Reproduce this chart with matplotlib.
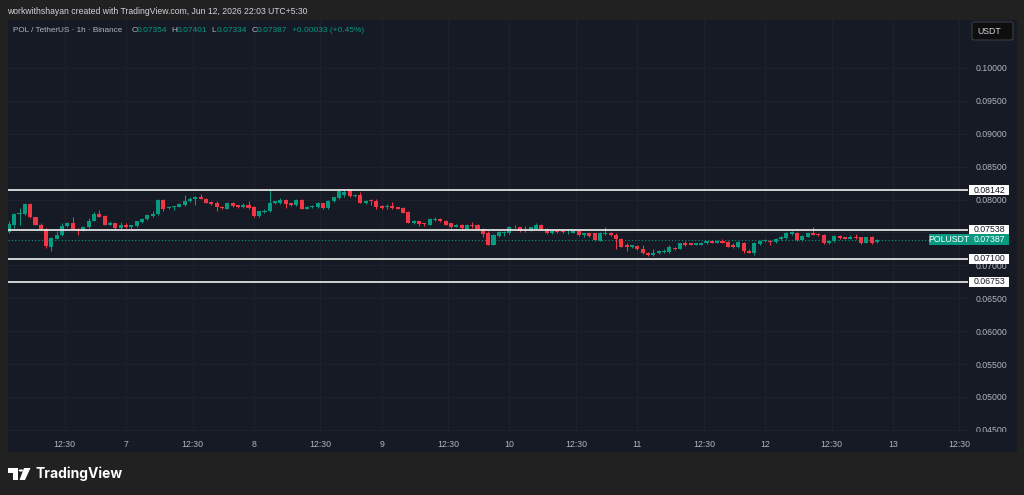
import numpy as np
import pandas as pd
import matplotlib
matplotlib.use("Agg")
from matplotlib import pyplot as plt
from matplotlib.patches import Rectangle, FancyBboxPatch, Polygon, Circle
from matplotlib.transforms import blended_transform_factory, Bbox, TransformedBbox

plt.rcParams['font.family'] = ['Liberation Sans', 'DejaVu Sans']

# POL / TetherUS, 1h candles, Binance (UTC+5:30), first bar 06 Jun 02:00
start = pd.Timestamp("2026-06-06 02:00")

opens = [
    .07508, .07619, .07776, .07781, .07933, .07730, .07619, .07558, .07285, .07406,
    .07457, .07599, .07639, .07558, .07528, .07578, .07680, .07781, .07751, .07619,
    .07639, .07568, .07609, .07589, .07599, .07660, .07700, .07751, .07781, .07994,
    .07872, .07882, .07893, .07913, .07974, .08004, .08045, .08014, .07963, .07943,
    .07893, .07862, .07953, .07913, .07882, .07913, .07893, .07751, .07812, .07822,
    .07943, .07953, .07994, .07943, .07913, .07994, .07862, .07882, .07882, .07943,
    .07872, .07974, .08024, .08065, .08146, .08055, .08075, .07943, .07994, .07974,
    .07903, .07882, .07903, .07882, .07872, .07812, .07639, .07670, .07639, .07619,
    .07690, .07710, .07680, .07639, .07589, .07619, .07558, .07619, .07619, .07558,
    .07497, .07315, .07447, .07487, .07487, .07589, .07578, .07538, .07528, .07558,
    .07619, .07558, .07487, .07528, .07528, .07518, .07497, .07528, .07467, .07487,
    .07487, .07376, .07477, .07497, .07467, .07406, .07305, .07275, .07295, .07254,
    .07193, .07153, .07183, .07204, .07204, .07264, .07254, .07335, .07335, .07315,
    .07315, .07335, .07366, .07345, .07376, .07356, .07315, .07275, .07345, .07224,
    .07193, .07325, .07366, .07376, .07356, .07396, .07416, .07477, .07497, .07386,
    .07437, .07497, .07477, .07467, .07335, .07366, .07447, .07426, .07406, .07437,
    .07426, .07345, .07426, .07354,
]
highs = [
    .07670, .07791, .07872, .07943, .07943, .07741, .07639, .07568, .07426, .07528,
    .07639, .07660, .07730, .07568, .07599, .07720, .07812, .07842, .07761, .07680,
    .07649, .07660, .07649, .07619, .07680, .07720, .07781, .07822, .08004, .08004,
    .07903, .07903, .07943, .08075, .08045, .08055, .08085, .08024, .07984, .07984,
    .07903, .07963, .07963, .07923, .07953, .07974, .07903, .07832, .07852, .08146,
    .07984, .08024, .08004, .07953, .08004, .08004, .07903, .07923, .07963, .07953,
    .07994, .08045, .08146, .08146, .08156, .08085, .08115, .07994, .08004, .08004,
    .07913, .07933, .07963, .07893, .07882, .07822, .07690, .07680, .07649, .07720,
    .07741, .07720, .07690, .07649, .07629, .07629, .07629, .07660, .07629, .07568,
    .07528, .07477, .07518, .07518, .07599, .07609, .07589, .07599, .07589, .07639,
    .07629, .07568, .07538, .07558, .07538, .07548, .07538, .07538, .07497, .07497,
    .07497, .07508, .07578, .07508, .07497, .07416, .07335, .07315, .07305, .07305,
    .07204, .07244, .07234, .07254, .07315, .07275, .07345, .07366, .07345, .07345,
    .07356, .07376, .07376, .07386, .07396, .07366, .07345, .07366, .07356, .07254,
    .07356, .07386, .07406, .07386, .07416, .07447, .07508, .07518, .07508, .07457,
    .07497, .07578, .07487, .07477, .07386, .07457, .07467, .07437, .07457, .07477,
    .07437, .07437, .07447, .07401,
]
lows = [
    .07497, .07568, .07619, .07761, .07720, .07609, .07548, .07264, .07224, .07396,
    .07447, .07589, .07538, .07457, .07518, .07568, .07670, .07730, .07609, .07609,
    .07558, .07558, .07568, .07558, .07589, .07649, .07690, .07741, .07771, .07832,
    .07852, .07842, .07882, .07903, .07963, .07923, .08004, .07943, .07913, .07822,
    .07852, .07852, .07882, .07872, .07872, .07862, .07730, .07741, .07791, .07812,
    .07933, .07933, .07872, .07903, .07903, .07852, .07852, .07872, .07872, .07862,
    .07862, .07963, .08014, .08034, .08045, .08045, .07943, .07933, .07913, .07852,
    .07862, .07852, .07862, .07852, .07791, .07639, .07629, .07599, .07599, .07609,
    .07680, .07660, .07609, .07568, .07578, .07558, .07548, .07568, .07538, .07437,
    .07305, .07305, .07437, .07447, .07477, .07568, .07508, .07508, .07518, .07548,
    .07548, .07477, .07477, .07487, .07497, .07477, .07487, .07447, .07437, .07437,
    .07376, .07366, .07467, .07447, .07254, .07275, .07224, .07264, .07234, .07173,
    .07143, .07143, .07173, .07183, .07193, .07234, .07244, .07295, .07305, .07305,
    .07305, .07325, .07335, .07335, .07335, .07275, .07264, .07264, .07193, .07183,
    .07163, .07315, .07356, .07315, .07345, .07386, .07406, .07467, .07376, .07376,
    .07426, .07457, .07447, .07325, .07325, .07356, .07406, .07396, .07396, .07406,
    .07325, .07335, .07325, .07334,
]
closes = [
    .07629, .07781, .07796, .07933, .07730, .07619, .07558, .07295, .07416, .07467,
    .07599, .07639, .07548, .07528, .07589, .07680, .07781, .07741, .07619, .07639,
    .07568, .07619, .07589, .07609, .07670, .07710, .07771, .07781, .07994, .07862,
    .07882, .07903, .07933, .07984, .08014, .08045, .08014, .07953, .07933, .07882,
    .07872, .07953, .07903, .07882, .07913, .07872, .07751, .07822, .07832, .07943,
    .07974, .07994, .07933, .07913, .07994, .07862, .07893, .07903, .07943, .07872,
    .07984, .08034, .08126, .08115, .08055, .08075, .07953, .07984, .07984, .07893,
    .07872, .07903, .07872, .07862, .07801, .07649, .07670, .07629, .07629, .07700,
    .07710, .07670, .07619, .07578, .07619, .07568, .07619, .07599, .07548, .07477,
    .07315, .07467, .07508, .07508, .07589, .07578, .07528, .07518, .07578, .07619,
    .07558, .07487, .07528, .07508, .07508, .07528, .07528, .07457, .07487, .07447,
    .07386, .07487, .07497, .07457, .07396, .07285, .07285, .07305, .07244, .07183,
    .07153, .07193, .07224, .07224, .07275, .07244, .07335, .07315, .07315, .07335,
    .07345, .07366, .07345, .07376, .07345, .07285, .07275, .07356, .07214, .07193,
    .07345, .07376, .07386, .07356, .07406, .07437, .07497, .07508, .07386, .07447,
    .07487, .07467, .07467, .07335, .07376, .07447, .07416, .07406, .07437, .07416,
    .07335, .07426, .07335, .07387,
]

levels = [0.08142, 0.07538, 0.07100, 0.06753]
last_price = 0.07387
price_ticks = [0.045, 0.050, 0.055, 0.060, 0.065, 0.070, 0.075, 0.080, 0.085, 0.090, 0.095, 0.100]
day_labels = ["7", "8", "9", "10", "11", "12", "13"]

GREEN = "#089981"
RED = "#f23645"
BG = "#161a25"
GRID = "#1d212d"
TXT = "#b2b5be"

W, H = 1024, 495


def fp(x, y):
    # pixel position (from top-left) -> figure fraction
    return x / W, 1 - y / H


fig = plt.figure(figsize=(10.24, 4.95), dpi=100, facecolor="#212121")

# chart panel
fig.add_artist(Rectangle(fp(8, 452), 1009 / W, 432 / H, transform=fig.transFigure,
                         facecolor=BG, edgecolor="none", zorder=0))

ax = fig.add_axes([8 / W, 61 / H, 960 / W, 414 / H], facecolor=BG)
for s in ax.spines.values():
    s.set_visible(False)

hours = (pd.date_range(start, periods=len(opens), freq="h") - pd.Timestamp("2026-06-06")) / pd.Timedelta(hours=1)
x = np.asarray(hours, dtype=float)
o = np.array(opens)
h = np.array(highs)
l = np.array(lows)
c = np.array(closes)
cols = np.where(c >= o, GREEN, RED)

ax.vlines(x, l, h, colors=cols, lw=0.75, zorder=3)
body = np.maximum(np.abs(c - o), 0.00012)
ax.bar(x, body, bottom=np.minimum(o, c), width=0.76, color=cols, linewidth=0, zorder=4)

# ticks
day_pos = [24 * (i + 1) for i in range(len(day_labels))]
half_pos = [24 * i + 12.5 for i in range(len(day_labels) + 1)]
xt = sorted(day_pos + half_pos)
xl = [day_labels[day_pos.index(p)] if p in day_pos else "12:30" for p in xt]
ax.set_xticks(xt)
ax.set_xticklabels(xl)
ax.set_yticks(price_ticks)
# 0.07500 sits fully under the level / last-price tags
ax.set_yticklabels(["" if abs(p - 0.075) < 1e-9 else f"{p:.5f}" for p in price_ticks])
ax.yaxis.tick_right()
ax.tick_params(axis="x", length=0, pad=4, labelsize=6.3, labelcolor=TXT)
ax.tick_params(axis="y", length=0, pad=5.5, labelsize=6.3, labelcolor=TXT)
ax.grid(True, color=GRID, lw=0.8, zorder=0)
ax.set_axisbelow(True)
ax.set_xlim(1.84, 182.1)
ax.set_ylim(0.044375, 0.107295)

# price scale ends just above the time scale
clipbox = TransformedBbox(Bbox([[0, 1 - 432 / H], [1, 1 - 20 / H]]), fig.transFigure)
for t in ax.yaxis.get_major_ticks():
    t.label2.set_clip_box(clipbox)
    t.label2.set_clip_on(True)

# last price dotted line
ax.axhline(last_price, color=GREEN, lw=0.8, ls=(0, (1, 2)), zorder=2)

# support / resistance lines with tags on the price scale
trans = blended_transform_factory(ax.transAxes, ax.transData)
tag_h = 0.00152   # ~10 px tall
for lv in levels:
    ax.axhline(lv, color="#e0e0e0", lw=1.3, zorder=5)
    ax.add_patch(Rectangle((1.0015, lv - tag_h / 2), 0.0415, tag_h, transform=trans,
                           facecolor="white", edgecolor="none", clip_on=False, zorder=6))
    ax.text(1.0225, lv, f"{lv:.5f}", transform=trans, ha="center", va="center",
            fontsize=6.3, color="#131722", clip_on=False, zorder=7)

ax.add_patch(Rectangle((0.9594, last_price - tag_h * 0.55), 0.0406, tag_h * 1.1, transform=trans,
                       facecolor=GREEN, edgecolor="none", clip_on=False, zorder=6))
ax.add_patch(Rectangle((1.0005, last_price - tag_h * 0.55), 0.0425, tag_h * 1.1, transform=trans,
                       facecolor=GREEN, edgecolor="none", clip_on=False, zorder=6))
ax.text(1.0225, last_price, f"{last_price:.5f}", transform=trans, ha="center", va="center",
        fontsize=6.3, color="white", clip_on=False, zorder=7)
ax.text(0.9797, last_price, "POLUSDT", transform=trans, ha="center", va="center",
        fontsize=6.3, color="white", clip_on=False, zorder=7)

# currency box
fig.add_artist(FancyBboxPatch(fp(972, 40), 41 / W, 18 / H, transform=fig.transFigure,
                              boxstyle="round,pad=0,rounding_size=0.003",
                              facecolor="#0e0e0e", edgecolor="#3a3d47", lw=0.8, zorder=3))
fig.text(*fp(977, 31), "USDT", fontsize=6.3, color="#d1d4dc", va="center", ha="left", zorder=4)

# header texts
fig.text(*fp(7, 11), "workwithshayan created with TradingView.com, Jun 12, 2026 22:03 UTC+5:30",
         fontsize=6.2, color="#d1d4dc", va="center", ha="left")
fig.text(*fp(13, 30), "POL / TetherUS · 1h · Binance", fontsize=5.9, color=TXT, va="center", ha="left")
legend_bits = [(131.5, "O", TXT), (136.5, "0.07354", GREEN), (171.5, "H", TXT), (176.5, "0.07401", GREEN),
               (211.5, "L", TXT), (216.5, "0.07334", GREEN), (251.5, "C", TXT), (256.5, "0.07387", GREEN),
               (291.5, "+0.00033 (+0.45%)", GREEN)]
for px, s, col in legend_bits:
    fig.text(*fp(px, 30), s, fontsize=6, color=col, va="center", ha="left")

# TradingView logo
fig.add_artist(Polygon([fp(8, 468), fp(18, 468), fp(18, 480), fp(13, 480), fp(13, 473), fp(8, 473)],
                       closed=True, transform=fig.transFigure, facecolor="white", edgecolor="none"))
fig.add_artist(Circle(fp(21, 470.5), 2.3 / W, transform=fig.transFigure, facecolor="white", edgecolor="none"))
fig.add_artist(Polygon([fp(24, 468), fp(30.5, 468), fp(25, 480), fp(19.5, 480)],
                       closed=True, transform=fig.transFigure, facecolor="white", edgecolor="none"))
fig.text(*fp(35, 474), "TradingView", fontsize=10, fontweight="bold", color="white",
         va="center", ha="left", family=["Inter", "DejaVu Sans"])

fig.savefig("out.png", dpi=100, facecolor=fig.get_facecolor())
